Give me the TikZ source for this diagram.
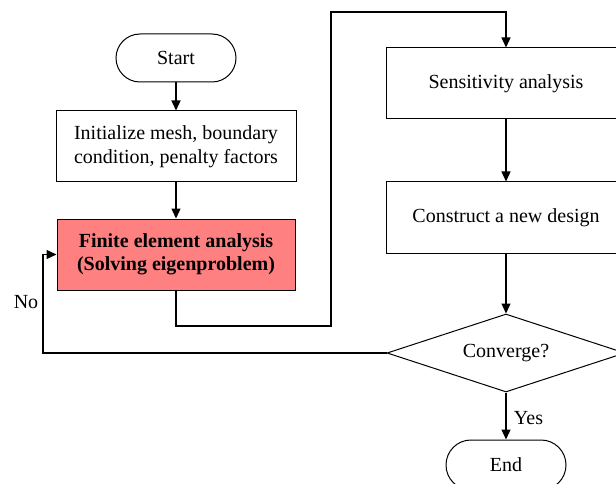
\documentclass[tikz,border=0pt]{standalone}
\usepackage{fontspec}
\setmainfont{Liberation Serif}
\usetikzlibrary{arrows.meta,shapes.geometric}
\definecolor{salmon}{RGB}{255,128,128}
\tikzset{
  box/.style={draw, line width=1pt, minimum width=240pt, minimum height=71pt, align=center, inner sep=2pt, font=\fontsize{20}{23.5}\selectfont},
  term/.style={draw, line width=1pt, rounded corners=24pt, minimum width=120pt, minimum height=48pt, font=\fontsize{20}{23.5}\selectfont},
  dec/.style={draw, line width=1pt, diamond, aspect=3.05, minimum width=238pt, minimum height=78pt, inner sep=0pt, font=\fontsize{20}{23.5}\selectfont},
  conn/.style={line width=1.3pt},
  arr/.style={conn, -{Triangle[length=10pt,width=9pt]}},
  lbl/.style={font=\fontsize{20}{23.5}\selectfont}
}
\begin{document}
\begin{tikzpicture}[x=1pt,y=-1pt]
\useasboundingbox (0,0) rectangle (616,484);
\clip (0,0) rectangle (616,484);
\node[term] (start) at (176,58) {Start};
\node[box] (init) at (176,146.5) {Initialize mesh, boundary\\condition, penalty factors};
\node[box, fill=salmon, font=\fontsize{20}{23.5}\selectfont\bfseries, minimum width=238pt] (fea) at (176,254.5) {Finite element analysis\\(Solving eigenproblem)};
\node[box] (sens) at (506,83.5) {Sensitivity analysis};
\node[box] (cons) at (506,217.5) {Construct a new design};
\node[dec] (conv) at (506,353) {Converge?};
\node[term, rounded corners=25pt, minimum height=50pt] (end) at (506,465) {End};
\coordinate (c1) at (331,326);
\coordinate (c2) at (331,12);
\coordinate (c3) at (43,353);
\draw[arr] (start.south) -- (init.north);
\draw[arr] (init.south) -- (fea.north);
\draw[arr] (fea.south) |- (c1) -- (c2) -| (sens.north);
\draw[arr] (sens.south) -- (cons.north);
\draw[arr] (cons.south) -- (conv.north);
\draw[arr] (conv.west) -- (c3) |- (fea.west);
\draw[arr] (conv.south) -- node[lbl, right, xshift=4pt, yshift=-2pt] (yes) {Yes} (end.north);
\node[lbl] (no) at (26,302) {No};
\end{tikzpicture}
\end{document}
